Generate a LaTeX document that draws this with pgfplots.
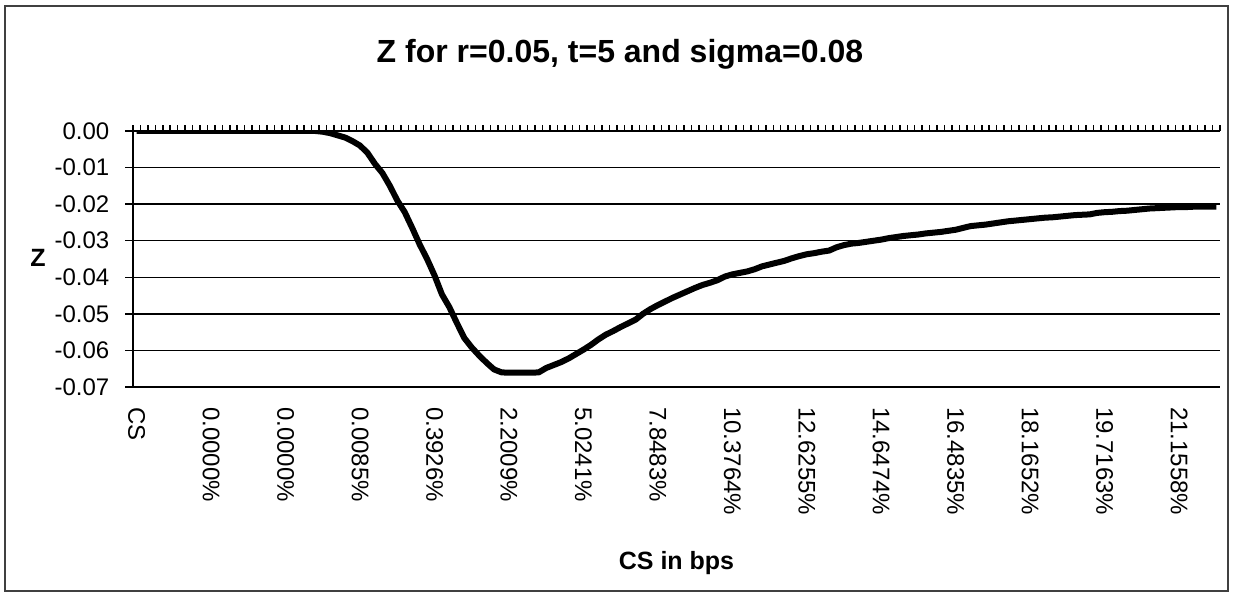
\documentclass[border=0pt]{standalone}
\usepackage{pgfplots}
\pgfplotsset{compat=1.18}
\usepackage{fontspec}
\setmainfont{Liberation Sans}
\pgfplotstableread{
k z
0 0
1 0
2 0
3 0
4 0
5 0
6 0
7 0
8 0
9 0
10 0
11 0
12 0
13 0
14 0
15 0
16 0
17 0
18 0
19 0
20 0
21 0
22 0
23 0
24 0
25 -0.0002
26 -0.0006
27 -0.0012
28 -0.0018
29 -0.0028
30 -0.0040
31 -0.0060
32 -0.0090
33 -0.0115
34 -0.0150
35 -0.0190
36 -0.0222
37 -0.0265
38 -0.0310
39 -0.0350
40 -0.0395
41 -0.0447
42 -0.0482
43 -0.0525
44 -0.0566
45 -0.0592
46 -0.0614
47 -0.0634
48 -0.0652
49 -0.0660
50 -0.0661
51 -0.0661
52 -0.0661
53 -0.0661
54 -0.0660
55 -0.0648
56 -0.0640
57 -0.0632
58 -0.0622
59 -0.0610
60 -0.0598
61 -0.0585
62 -0.0570
63 -0.0557
64 -0.0547
65 -0.0536
66 -0.0526
67 -0.0516
68 -0.0500
69 -0.0487
70 -0.0476
71 -0.0466
72 -0.0456
73 -0.0447
74 -0.0438
75 -0.0429
76 -0.0421
77 -0.0415
78 -0.0408
79 -0.0398
80 -0.0392
81 -0.0388
82 -0.0384
83 -0.0378
84 -0.0370
85 -0.0365
86 -0.0360
87 -0.0355
88 -0.0348
89 -0.0342
90 -0.0337
91 -0.0334
92 -0.0330
93 -0.0327
94 -0.0318
95 -0.0312
96 -0.0308
97 -0.0306
98 -0.0303
99 -0.0300
100 -0.0297
101 -0.0293
102 -0.0290
103 -0.0287
104 -0.0285
105 -0.0283
106 -0.0280
107 -0.0278
108 -0.0276
109 -0.0273
110 -0.0270
111 -0.0265
112 -0.0260
113 -0.0258
114 -0.0256
115 -0.0253
116 -0.0250
117 -0.0247
118 -0.0245
119 -0.0243
120 -0.0241
121 -0.0239
122 -0.0237
123 -0.0236
124 -0.0234
125 -0.0232
126 -0.0230
127 -0.0229
128 -0.0228
129 -0.0224
130 -0.0222
131 -0.0221
132 -0.0219
133 -0.0218
134 -0.0216
135 -0.0214
136 -0.0212
137 -0.0211
138 -0.0210
139 -0.0209
140 -0.0208
141 -0.0208
142 -0.0207
143 -0.0207
144 -0.0207
145 -0.0207
}\zdata
\begin{document}
\begin{tikzpicture}[x=1pt,y=1pt]
\useasboundingbox (0,0) rectangle (1233,596);
\draw[line width=1.5pt, black!75] (5,5) rectangle (1228,590);
% axis A: grid, data, top category ticks, y labels
\begin{axis}[
  at={(133pt,209pt)}, anchor=south west,
  width=1087pt, height=256pt, scale only axis,
  xmin=-0.5, xmax=145.5, ymin=-0.07, ymax=0,
  axis x line*=top, axis y line*=left,
  axis line style={line width=1.8pt, black},
  xtick={-0.5,0.5,...,145.5},
  xticklabels={},
  major tick length=5.5pt,
  tick align=outside,
  tick style={black, line width=1.5pt},
  scaled y ticks=false,
  ytick={-0.07,-0.06,-0.05,-0.04,-0.03,-0.02,-0.01,0},
  yticklabels={-0.07,-0.06,-0.05,-0.04,-0.03,-0.02,-0.01,0.00},
  yticklabel style={font=\fontsize{24}{28}\selectfont, inner sep=0pt, anchor=east, xshift=-18pt},
  ymajorgrids, major grid style={black, line width=1.3pt},
  title={Z for r=0.05, t=5 and sigma=0.08},
  every axis title/.style={at={(axis description cs:0.448,1)}, anchor=base, yshift=68pt, font=\bfseries\fontsize{32}{38}\selectfont},
  ylabel={Z},
  every axis y label/.style={at={(axis description cs:-0.0874,0.469)}, anchor=base, font=\bfseries\fontsize{25}{30}\selectfont},
]
\addplot[black, line width=6pt, line join=round] table[x=k, y=z] {\zdata};
\end{axis}
% axis B: category labels at the bottom, left y tick marks
\begin{axis}[
  at={(133pt,209pt)}, anchor=south west,
  width=1087pt, height=256pt, scale only axis,
  xmin=-0.5, xmax=145.5, ymin=-0.07, ymax=0,
  axis line style={draw=none},
  scaled y ticks=false,
  ytick={-0.07,-0.06,-0.05,-0.04,-0.03,-0.02,-0.01,0},
  yticklabels={},
  ytick pos=left,
  ytick align=outside,
  major tick length=8pt,
  ytick style={black, line width=1.3pt},
  xtick={0,10,...,140},
  xtick pos=left,
  xtick align=inside,
  xtick style={draw=none},
  xticklabels={CS,0.0000\%,0.0000\%,0.0085\%,0.3926\%,2.2009\%,5.0241\%,7.8483\%,10.3764\%,12.6255\%,14.6474\%,16.4835\%,18.1652\%,19.7163\%,21.1558\%},
  xticklabel style={rotate=-90, anchor=west, inner sep=0pt, xshift=20pt, font=\fontsize{24}{28}\selectfont},
  xlabel={CS in bps},
  every axis x label/.style={at={(axis description cs:0.5,0)}, anchor=base, yshift=-182pt, font=\bfseries\fontsize{25}{30}\selectfont},
]
\end{axis}
\end{tikzpicture}
\end{document}
